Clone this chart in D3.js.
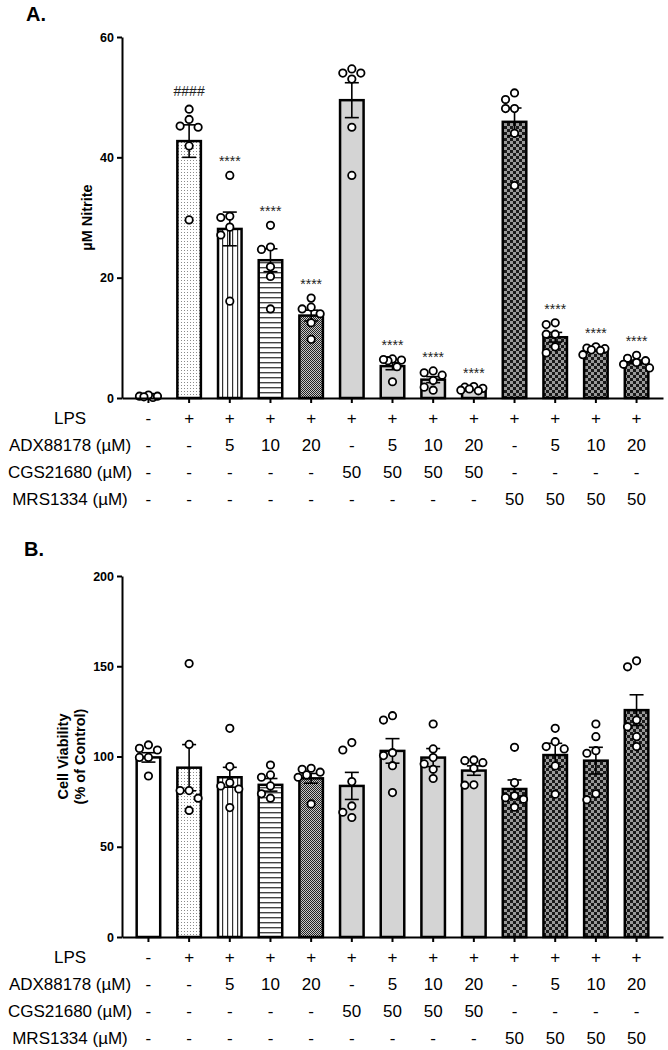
<!DOCTYPE html>
<html><head><meta charset="utf-8">
<script src="https://cdn.jsdelivr.net/npm/d3@7"></script>
<style>body{margin:0;background:#fff}svg{display:block}</style>
</head><body>
<svg id="c" width="668" height="1050"></svg>
<script>
// ---------- data ----------
const groups = ["g1","g2","g3","g4","g5","g6","g7","g8","g9","g10","g11","g12","g13"];
const rowLabels = ["LPS", "ADX88178 (µM)", "CGS21680 (µM)", "MRS1334 (µM)"];
const lpsRow = ["-","+","+","+","+","+","+","+","+","+","+","+","+"];
const adxRow = ["-","-","5","10","20","-","5","10","20","-","5","10","20"];
const cgsRow = ["-","-","-","-","-","50","50","50","50","-","-","-","-"];
const mrsRow = ["-","-","-","-","-","-","-","-","-","50","50","50","50"];

const nitriteTicks = [0, 20, 40, 60];
const nitriteMean = [0.3, 42.7, 28.1, 22.9, 13.7, 49.5, 5.3, 3.05, 1.5, 45.9, 10.1, 8.0, 6.0];
const nitriteSem  = [0.1, 2.7, 2.8, 1.9, 0.9, 2.9, 0.6, 0.5, 0.15, 2.3, 0.8, 0.2, 0.3];
const nitriteDots = [
  [0.1, 0.3, 0.5, 0.3, 0.2],
  [48.0, 46.3, 45.0, 45.2, 41.9, 29.6],
  [37.0, 30.2, 30.0, 28.4, 27.1, 16.1],
  [28.7, 25.1, 24.7, 21.8, 20.2, 14.8],
  [16.6, 15.1, 14.8, 14.0, 12.5, 9.75],
  [54.7, 54.0, 54.0, 53.0, 45.0, 37.0],
  [6.5, 6.3, 6.2, 6.4, 5.2, 2.7],
  [4.5, 4.2, 3.8, 2.9, 1.8, 1.3],
  [1.9, 1.8, 1.6, 1.5, 1.3, 1.2],
  [50.7, 49.6, 48.1, 48.1, 44.0, 35.3],
  [12.5, 12.2, 10.6, 10.6, 8.5, 7.5],
  [8.5, 8.3, 8.2, 8.0, 7.9, 7.2],
  [7.1, 6.6, 6.2, 5.9, 5.6, 5.0]
];
const nitriteSig = ["", "####", "****", "****", "****", "", "****", "****", "****", "", "****", "****", "****"];

const viabilityTicks = [0, 50, 100, 150, 200];
const viabilityMean = [99.5, 93.8, 88.5, 84.3, 87.9, 83.7, 103.1, 99.4, 92.2, 82.0, 100.8, 97.7, 125.7];
const viabilitySem  = [2.6, 12.8, 5.5, 3.5, 2.7, 7.5, 6.8, 5.0, 2.6, 5.0, 6.5, 7.4, 8.5];
const viabilityDots = [
  [106.4, 103.6, 104.5, 99.5, 99.5, 89.2],
  [151.5, 106.7, 81.1, 81.1, 76.9, 70.1],
  [115.6, 94.4, 85.5, 83.7, 82.0, 71.7],
  [95.3, 89.8, 88.5, 83.7, 79.3, 76.9],
  [93.5, 92.9, 91.3, 89.8, 88.5, 73.7],
  [107.7, 103.6, 86.1, 72.6, 69.1, 66.2],
  [122.6, 120.2, 102.1, 100.5, 94.9, 80.0],
  [118.0, 104.2, 99.4, 95.9, 92.9, 87.8],
  [98.1, 97.7, 96.6, 93.5, 84.3, 84.1],
  [105.1, 85.5, 78.2, 77.2, 76.3, 71.9],
  [115.6, 108.2, 105.5, 104.2, 94.8, 79.1],
  [118.0, 111.0, 103.2, 101.8, 79.3, 76.0],
  [153.0, 149.7, 120.2, 116.5, 111.0, 105.5]
];

// ---------- styles ----------
const FONT = "'Liberation Sans', Arial, sans-serif";
const groupFill = ["#fff", "url(#pStipple)", "url(#pVert)", "url(#pHoriz)", "url(#pDense)",
  "#d4d4d4", "#d4d4d4", "#d4d4d4", "#d4d4d4",
  "url(#pCheck)", "url(#pCheck)", "url(#pCheck)", "url(#pCheck)"];

const svg = d3.select("#c");
const defs = svg.append("defs");
function pattern(id, w, h, draw) {
  const p = defs.append("pattern").attr("id", id).attr("patternUnits", "userSpaceOnUse")
    .attr("width", w).attr("height", h);
  draw(p);
}
pattern("pStipple", 3, 3, p => {
  p.append("rect").attr("width", 3).attr("height", 3).attr("fill", "#fff");
  p.append("rect").attr("x", 1).attr("y", 1).attr("width", 1).attr("height", 1).attr("fill", "#8a8a8a");
});
pattern("pVert", 5, 5, p => {
  p.append("rect").attr("width", 5).attr("height", 5).attr("fill", "#fff");
  p.append("rect").attr("x", 2).attr("y", 0).attr("width", 1.2).attr("height", 5).attr("fill", "#333");
});
pattern("pHoriz", 5, 5, p => {
  p.append("rect").attr("width", 5).attr("height", 5).attr("fill", "#fff");
  p.append("rect").attr("x", 0).attr("y", 2).attr("width", 5).attr("height", 1.4).attr("fill", "#444");
});
pattern("pDense", 2, 2, p => {
  p.append("rect").attr("width", 2).attr("height", 2).attr("fill", "#c8c8c8");
  p.append("rect").attr("x", 0).attr("y", 0).attr("width", 1).attr("height", 1).attr("fill", "#222");
  p.append("rect").attr("x", 1).attr("y", 1).attr("width", 1).attr("height", 1).attr("fill", "#222");
});
pattern("pCheck", 6, 6, p => {
  p.append("rect").attr("width", 6).attr("height", 6).attr("fill", "#9a9a9a");
  p.append("rect").attr("x", 0).attr("y", 0).attr("width", 3).attr("height", 3).attr("fill", "#1a1a1a");
  p.append("rect").attr("x", 3).attr("y", 3).attr("width", 3).attr("height", 3).attr("fill", "#1a1a1a");
});

const x = d3.scaleBand().domain(groups).range([122, 663]).paddingInner(0.36).paddingOuter(0.33);
const bw = x.bandwidth();
const cx = i => x(groups[i]) + bw / 2;

function beeswarm(vals, y) {
  const order = vals.map((v, i) => i).sort((a, b) => vals[b] - vals[a]);
  const cands = [0, -9, 9, -4.5, 4.5, -13, 13];
  const placed = [];
  const out = new Array(vals.length);
  order.forEach(i => {
    const py = y(vals[i]);
    let best = null, bestD = -1;
    for (const c of cands) {
      let md = Infinity;
      placed.forEach(p => { md = Math.min(md, Math.hypot(p.dx - c, p.py - py)); });
      if (md >= 8) { best = c; bestD = md; break; }
      if (md > bestD) { bestD = md; best = c; }
    }
    placed.push({dx: best, py});
    out[i] = {dx: best, v: vals[i]};
  });
  return out;
}

function panel(o) {
  const y = d3.scaleLinear().domain([0, o.ticks[o.ticks.length - 1]]).range([o.y0, o.yTop]);
  const g = svg.append("g");

  // bars
  g.selectAll("rect.bar").data(o.mean).join("rect")
    .attr("x", (d, i) => x(groups[i]) + 1.25)
    .attr("width", bw - 2.5)
    .attr("y", d => y(d))
    .attr("height", d => y(0) - y(d))
    .attr("fill", (d, i) => groupFill[i])
    .attr("stroke", "#000").attr("stroke-width", 2.5);

  // error bars
  const eb = g.selectAll("g.err").data(o.mean).join("g");
  eb.append("line")
    .attr("x1", (d, i) => cx(i)).attr("x2", (d, i) => cx(i))
    .attr("y1", (d, i) => y(d - o.sem[i])).attr("y2", (d, i) => y(d + o.sem[i]))
    .attr("stroke", "#000").attr("stroke-width", 1.6);
  [-1, 1].forEach(s => {
    eb.append("line")
      .attr("x1", (d, i) => cx(i) - 7).attr("x2", (d, i) => cx(i) + 7)
      .attr("y1", (d, i) => y(d + s * o.sem[i])).attr("y2", (d, i) => y(d + s * o.sem[i]))
      .attr("stroke", "#000").attr("stroke-width", 1.6);
  });

  // dots
  o.dots.forEach((vals, i) => {
    const pts = beeswarm(vals, y);
    g.selectAll(null).data(pts).join("circle")
      .attr("cx", d => cx(i) + d.dx).attr("cy", d => y(d.v)).attr("r", 3.7)
      .attr("fill", "#fff").attr("stroke", "#000").attr("stroke-width", 1.8);
  });

  // significance
  if (o.sig) {
    g.selectAll("text.sig").data(o.sig).join("text")
      .attr("x", (d, i) => cx(i))
      .attr("y", (d, i) => y(d3.max(o.dots[i])) - (d.startsWith("#") ? 13 : 9))
      .attr("text-anchor", "middle").attr("font-family", FONT).attr("font-size", 14)
      .attr("fill", "#222").text(d => d);
  }

  // axes
  const ya = g.append("g").attr("transform", `translate(122,0)`)
    .call(d3.axisLeft(y).tickValues(o.ticks).tickSize(5).tickSizeOuter(0).tickPadding(3));
  ya.select(".domain").attr("stroke-width", 2);
  ya.selectAll(".tick line").attr("stroke-width", 2);
  ya.selectAll(".tick text").attr("font-family", FONT).attr("font-size", 12.5).attr("font-weight", "bold").attr("fill", "#000");
  const xa = g.append("g").attr("transform", `translate(0,${y(0)})`)
    .call(d3.axisBottom(x).tickSize(5).tickSizeOuter(0).tickFormat(""));
  xa.select(".domain").attr("stroke-width", 2);
  xa.selectAll(".tick line").attr("stroke-width", 2);

  // y label
  const yl = g.append("text")
    .attr("transform", `translate(${o.labelX},${(y(0) + y.range()[1]) / 2}) rotate(-90)`)
    .attr("text-anchor", "middle").attr("font-family", FONT).attr("font-size", 14.5)
    .attr("font-weight", "bold");
  o.label.forEach((t, k) => yl.append("tspan").attr("x", 0).attr("dy", k === 0 ? 0 : 16.5).text(t));

  // treatment table
  const rows = [lpsRow, adxRow, cgsRow, mrsRow];
  const rowDy = [26, 53, 80, 107];
  rows.forEach((row, r) => {
    g.append("text").attr("x", 70).attr("y", y(0) + rowDy[r])
      .attr("text-anchor", "middle").attr("font-family", FONT).attr("font-size", 17).text(rowLabels[r]);
    g.selectAll(null).data(row).join("text")
      .attr("x", (d, i) => cx(i)).attr("y", y(0) + rowDy[r])
      .attr("text-anchor", "middle").attr("font-family", FONT).attr("font-size", 17).text(d => d);
  });

  // panel letter
  svg.append("text").attr("x", o.letterX).attr("y", o.letterY)
    .attr("font-family", FONT).attr("font-weight", "bold").attr("font-size", 20)
    .text(o.letter);
}

panel({ticks: nitriteTicks, y0: 398, yTop: 37, mean: nitriteMean, sem: nitriteSem, dots: nitriteDots,
  sig: nitriteSig, label: ["µM Nitrite"], labelX: 92, letter: "A.", letterX: 26, letterY: 21});
panel({ticks: viabilityTicks, y0: 937, yTop: 576, mean: viabilityMean, sem: viabilitySem, dots: viabilityDots,
  sig: null, label: ["Cell Viability", "(% of Control)"], labelX: 68, letter: "B.", letterX: 24, letterY: 556});
</script>
</body></html>
